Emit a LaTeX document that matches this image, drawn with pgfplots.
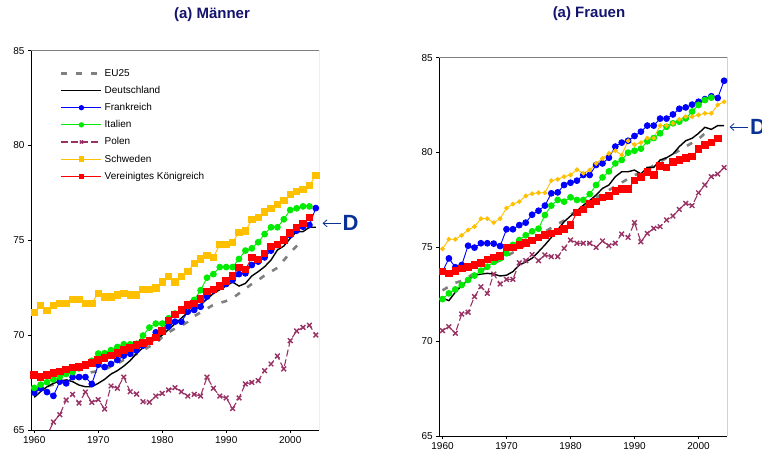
\documentclass[border=0pt]{standalone}
\usepackage{fontspec}
\setmainfont{Liberation Sans}
\usepackage{pgfplots}
\pgfplotsset{compat=1.18}
\usetikzlibrary{arrows.meta}
\definecolor{cEU}{RGB}{128,128,128}
\definecolor{cFR}{RGB}{0,0,255}
\definecolor{cIT}{RGB}{0,235,0}
\definecolor{cPL}{RGB}{153,51,102}
\definecolor{cSE}{RGB}{255,192,0}
\definecolor{cUK}{RGB}{255,0,0}
\definecolor{cTitle}{RGB}{20,20,110}
\definecolor{cD}{RGB}{10,50,150}
\pgfplotsset{
  lebase/.style={
    scale only axis, width=288pt,
    xmin=1959.5, xmax=2004.5, ymin=65, ymax=85,
    xtick={1960,1970,1980,1990,2000}, ytick={65,70,75,80,85},
    axis x line*=bottom, axis y line*=left,
    tick align=outside, major tick length=3pt,
    /pgf/number format/1000 sep={},
    /pgf/number format/assume math mode=true,
    tick label style={font=\fontsize{10}{12}\selectfont},
    axis line style={black, line width=0.9pt},
    tick style={black, line width=0.6pt},
    legend image code/.code={\draw[mark repeat=2,mark phase=2,##1] plot coordinates {(0pt,0pt) (20pt,0pt) (40pt,0pt)};},
  },
  sEU/.style={cEU, line width=2.6pt, dash pattern=on 6pt off 9pt, no markers},
  sDE/.style={black, line width=1.4pt, no markers},
  sFR/.style={cFR, line width=0.9pt, mark=*, mark size=2.9pt, mark options={solid}},
  sIT/.style={cIT, line width=0.9pt, mark=*, mark size=2.9pt, mark options={solid}},
  sPL/.style={cPL, line width=1.1pt, dash pattern=on 7pt off 3pt, mark=x, mark size=3.3pt, mark options={solid, line width=1.4pt}},
  sSE/.style={cSE, line width=0.9pt, mark=square*, mark size=3.2pt, mark options={solid}},
  sSEw/.style={cSE, line width=0.9pt, mark=*, mark size=1.9pt, mark options={solid}},
  sUK/.style={cUK, line width=0.9pt, mark=square*, mark size=3.3pt, mark options={solid}},
}
\begin{document}
\begin{tikzpicture}
\useasboundingbox (0pt,0pt) rectangle (762pt,461pt);
% ---------------- Maenner ----------------
\begin{axis}[lebase, at={(31pt,31pt)}, anchor=south west, height=379.3pt,
  legend style={draw=none, fill=none, at={(0.09,0.962)}, anchor=north west,
    font=\fontsize{10}{12}\selectfont, row sep=4.4pt, legend cell align=left,
    /tikz/every even column/.append style={column sep=2pt}},
  legend image post style={mark size=2.2pt}]
\draw[gray, line width=0.7pt] (rel axis cs:0,1) -- (rel axis cs:1,1) -- (rel axis cs:1,0);
\addplot[sEU] coordinates {(1960,67.0)(1961,67.2)(1962,67.3)(1963,67.4)(1964,67.5)(1965,67.6)(1966,67.7)(1967,67.8)(1968,67.95)(1969,68.05)(1970,68.1)(1971,68.2)(1972,68.35)(1973,68.5)(1974,68.7)(1975,68.85)(1976,69.0)(1977,69.2)(1978,69.4)(1979,69.55)(1980,69.9)(1981,70.15)(1982,70.35)(1983,70.5)(1984,70.7)(1985,71.0)(1986,71.2)(1987,71.4)(1988,71.6)(1989,71.7)(1990,71.8)(1991,71.95)(1992,72.2)(1993,72.45)(1994,72.7)(1995,72.9)(1996,73.15)(1997,73.35)(1998,73.55)(1999,73.95)(2000,74.35)(2001,74.7)(2002,75.05)};
\addlegendentry{EU25}
\addplot[sDE] coordinates {(1960,66.72)(1961,67.02)(1962,67.28)(1963,67.46)(1964,67.58)(1965,67.64)(1966,67.55)(1967,67.37)(1968,67.28)(1969,67.28)(1970,67.46)(1971,67.67)(1972,67.95)(1973,68.13)(1974,68.37)(1975,68.66)(1976,69.04)(1977,69.34)(1978,69.57)(1979,69.8)(1980,70.0)(1981,70.3)(1982,70.6)(1983,70.9)(1984,71.2)(1985,71.4)(1986,71.6)(1987,71.9)(1988,72.2)(1989,72.4)(1990,72.6)(1991,72.8)(1992,72.59)(1993,72.73)(1994,73.12)(1995,73.35)(1996,73.61)(1997,73.96)(1998,74.49)(1999,74.7)(2000,75.1)(2001,75.46)(2002,75.46)(2003,75.69)(2004,75.69)};
\addlegendentry{Deutschland}
\addplot[sFR] coordinates {(1960,66.97)(1961,67.2)(1962,67.0)(1963,66.8)(1964,67.55)(1965,67.46)(1966,67.79)(1967,67.79)(1968,67.79)(1969,67.43)(1970,68.44)(1971,68.32)(1972,68.48)(1973,68.69)(1974,68.92)(1975,69.02)(1976,69.2)(1977,69.45)(1978,69.73)(1979,70.15)(1980,70.27)(1981,70.45)(1982,70.71)(1983,70.71)(1984,71.24)(1985,71.33)(1986,71.5)(1987,72.03)(1988,72.36)(1989,72.56)(1990,72.7)(1991,72.91)(1992,73.22)(1993,73.26)(1994,73.7)(1995,73.88)(1996,74.1)(1997,74.46)(1998,74.75)(1999,74.98)(2000,75.28)(2001,75.51)(2002,75.72)(2003,75.81)(2004,76.7)};
\addlegendentry{Frankreich}
\addplot[sIT] coordinates {(1960,67.22)(1961,67.39)(1962,67.52)(1963,67.66)(1964,67.8)(1965,67.95)(1966,68.06)(1967,68.25)(1968,68.45)(1969,68.65)(1970,69.03)(1971,69.05)(1972,69.21)(1973,69.38)(1974,69.52)(1975,69.52)(1976,69.55)(1977,69.98)(1978,70.4)(1979,70.61)(1980,70.61)(1981,70.89)(1982,71.14)(1983,71.37)(1984,71.53)(1985,71.86)(1986,72.37)(1987,73.03)(1988,73.22)(1989,73.59)(1990,73.59)(1991,73.59)(1992,74.02)(1993,74.46)(1994,74.58)(1995,74.9)(1996,75.33)(1997,75.69)(1998,75.69)(1999,76.11)(2000,76.6)(2001,76.69)(2002,76.79)(2003,76.79)};
\addlegendentry{Italien}
\addplot[sPL] coordinates {(1960,64.95)(1961,64.75)(1962,64.7)(1963,65.42)(1964,65.81)(1965,66.58)(1966,66.88)(1967,66.42)(1968,67.0)(1969,66.46)(1970,66.6)(1971,66.11)(1972,67.32)(1973,67.2)(1974,67.79)(1975,67.02)(1976,66.9)(1977,66.49)(1978,66.46)(1979,66.79)(1980,66.93)(1981,67.11)(1982,67.23)(1983,67.02)(1984,66.79)(1985,66.88)(1986,66.79)(1987,67.79)(1988,67.2)(1989,66.79)(1990,66.69)(1991,66.13)(1992,66.69)(1993,67.43)(1994,67.51)(1995,67.6)(1996,68.13)(1997,68.48)(1998,68.9)(1999,68.22)(2000,69.71)(2001,70.22)(2002,70.41)(2003,70.52)(2004,70.01)};
\addlegendentry{Polen}
\addplot[sSE] coordinates {(1960,71.2)(1961,71.57)(1962,71.31)(1963,71.57)(1964,71.68)(1965,71.68)(1966,71.89)(1967,71.89)(1968,71.68)(1969,71.68)(1970,72.2)(1971,72.01)(1972,72.01)(1973,72.12)(1974,72.2)(1975,72.12)(1976,72.12)(1977,72.42)(1978,72.42)(1979,72.5)(1980,72.8)(1981,73.1)(1982,72.8)(1983,73.1)(1984,73.35)(1985,73.79)(1986,74.02)(1987,74.2)(1988,74.1)(1989,74.79)(1990,74.79)(1991,74.9)(1992,75.42)(1993,75.49)(1994,76.09)(1995,76.2)(1996,76.49)(1997,76.69)(1998,76.9)(1999,77.11)(2000,77.41)(2001,77.58)(2002,77.69)(2003,77.9)(2004,78.41)};
\addlegendentry{Schweden}
\addplot[sUK] coordinates {(1960,67.9)(1961,67.79)(1962,67.9)(1963,68.02)(1964,68.08)(1965,68.2)(1966,68.29)(1967,68.34)(1968,68.44)(1969,68.55)(1970,68.69)(1971,68.8)(1972,68.94)(1973,69.06)(1974,69.22)(1975,69.32)(1976,69.48)(1977,69.59)(1978,69.69)(1979,69.87)(1980,70.22)(1981,70.78)(1982,71.1)(1983,71.33)(1984,71.59)(1985,71.68)(1986,71.91)(1987,72.31)(1988,72.42)(1989,72.59)(1990,72.86)(1991,73.12)(1992,73.58)(1993,73.47)(1994,74.09)(1995,74.0)(1996,74.31)(1997,74.67)(1998,74.79)(1999,75.02)(2000,75.4)(2001,75.67)(2002,75.9)(2003,76.21)};
\addlegendentry{Vereinigtes Königreich}
\end{axis}
% ---------------- Frauen ----------------
\begin{axis}[lebase, at={(439.3pt,25pt)}, anchor=south west, height=378.3pt]
\draw[gray, line width=0.7pt] (rel axis cs:0,1) -- (rel axis cs:1,1) -- (rel axis cs:1,0);
\addplot[sEU] coordinates {(1960,72.7)(1961,72.9)(1962,73.1)(1963,73.2)(1964,73.4)(1965,73.6)(1966,73.75)(1967,73.9)(1968,74.1)(1969,74.3)(1970,74.5)(1971,74.7)(1972,74.9)(1973,75.1)(1974,75.3)(1975,75.5)(1976,75.8)(1977,76.0)(1978,76.2)(1979,76.4)(1980,76.7)(1981,76.9)(1982,77.1)(1983,77.3)(1984,77.6)(1985,77.8)(1986,78.0)(1987,78.2)(1988,78.4)(1989,78.6)(1990,78.8)(1991,78.9)(1992,79.1)(1993,79.3)(1994,79.5)(1995,79.7)(1996,79.9)(1997,80.1)(1998,80.3)(1999,80.5)(2000,80.7)(2001,81.0)(2002,81.2)};
\addplot[sDE] coordinates {(1960,72.28)(1961,72.16)(1962,72.6)(1963,72.95)(1964,73.25)(1965,73.5)(1966,73.56)(1967,73.6)(1968,73.56)(1969,73.46)(1970,73.5)(1971,73.69)(1972,74.04)(1973,74.2)(1974,74.4)(1975,74.74)(1976,75.1)(1977,75.5)(1978,75.9)(1979,76.33)(1980,76.63)(1981,76.9)(1982,77.2)(1983,77.45)(1984,77.74)(1985,78.09)(1986,78.27)(1987,78.71)(1988,78.97)(1989,78.97)(1990,79.06)(1991,78.85)(1992,79.2)(1993,79.2)(1994,79.59)(1995,79.71)(1996,79.91)(1997,80.3)(1998,80.61)(1999,80.74)(2000,81.0)(2001,81.32)(2002,81.21)(2003,81.41)(2004,81.41)};
\addplot[sFR] coordinates {(1960,73.69)(1961,74.39)(1962,73.92)(1963,74.04)(1964,75.06)(1965,74.96)(1966,75.19)(1967,75.19)(1968,75.17)(1969,75.04)(1970,75.93)(1971,75.93)(1972,76.15)(1973,76.28)(1974,76.7)(1975,76.91)(1976,77.18)(1977,77.83)(1978,77.88)(1979,78.27)(1980,78.39)(1981,78.5)(1982,78.8)(1983,78.8)(1984,79.33)(1985,79.41)(1986,79.71)(1987,80.3)(1988,80.51)(1989,80.61)(1990,80.86)(1991,81.09)(1992,81.41)(1993,81.41)(1994,81.78)(1995,81.78)(1996,82.0)(1997,82.3)(1998,82.37)(1999,82.52)(2000,82.67)(2001,82.81)(2002,82.96)(2003,82.87)(2004,83.78)};
\addplot[sIT] coordinates {(1960,72.24)(1961,72.54)(1962,72.75)(1963,72.98)(1964,73.25)(1965,73.48)(1966,73.74)(1967,73.95)(1968,74.2)(1969,74.39)(1970,74.66)(1971,75.1)(1972,75.36)(1973,75.61)(1974,75.82)(1975,75.96)(1976,76.68)(1977,77.18)(1978,77.48)(1979,77.39)(1980,77.62)(1981,77.48)(1982,77.48)(1983,77.79)(1984,78.27)(1985,78.67)(1986,78.99)(1987,79.41)(1988,79.59)(1989,79.98)(1990,80.08)(1991,80.19)(1992,80.58)(1993,80.75)(1994,81.0)(1995,81.35)(1996,81.53)(1997,81.62)(1998,81.79)(1999,82.15)(2000,82.5)(2001,82.76)(2002,82.89)};
\addplot[sPL] coordinates {(1960,70.57)(1961,70.78)(1962,70.43)(1963,71.45)(1964,71.54)(1965,72.37)(1966,72.89)(1967,72.54)(1968,73.56)(1969,73.04)(1970,73.28)(1971,73.28)(1972,74.16)(1973,74.27)(1974,74.59)(1975,74.27)(1976,74.57)(1977,74.48)(1978,74.48)(1979,74.92)(1980,75.36)(1981,75.19)(1982,75.19)(1983,75.19)(1984,74.97)(1985,75.31)(1986,75.06)(1987,75.19)(1988,75.68)(1989,75.5)(1990,76.28)(1991,75.27)(1992,75.71)(1993,75.98)(1994,76.07)(1995,76.42)(1996,76.63)(1997,76.98)(1998,77.3)(1999,77.18)(2000,77.86)(2001,78.27)(2002,78.71)(2003,78.85)(2004,79.19)};
\addplot[sSEw] coordinates {(1960,74.89)(1961,75.4)(1962,75.4)(1963,75.61)(1964,75.89)(1965,76.07)(1966,76.49)(1967,76.49)(1968,76.28)(1969,76.49)(1970,77.05)(1971,77.26)(1972,77.39)(1973,77.69)(1974,77.81)(1975,77.86)(1976,77.86)(1977,78.5)(1978,78.57)(1979,78.71)(1980,78.8)(1981,79.08)(1982,78.89)(1983,79.06)(1984,79.41)(1985,79.68)(1986,79.94)(1987,80.08)(1988,79.85)(1989,80.61)(1990,80.4)(1991,80.51)(1992,80.75)(1993,80.75)(1994,81.41)(1995,81.41)(1996,81.53)(1997,81.74)(1998,81.88)(1999,81.88)(2000,81.97)(2001,82.06)(2002,82.06)(2003,82.5)(2004,82.67)};
\addplot[sUK] coordinates {(1960,73.69)(1961,73.6)(1962,73.72)(1963,73.85)(1964,73.95)(1965,74.04)(1966,74.16)(1967,74.34)(1968,74.45)(1969,74.53)(1970,74.96)(1971,74.96)(1972,75.1)(1973,75.22)(1974,75.33)(1975,75.5)(1976,75.63)(1977,75.71)(1978,75.82)(1979,75.96)(1980,76.15)(1981,76.82)(1982,76.98)(1983,77.26)(1984,77.39)(1985,77.62)(1986,77.7)(1987,77.97)(1988,78.06)(1989,78.06)(1990,78.5)(1991,78.71)(1992,78.96)(1993,78.81)(1994,79.29)(1995,79.19)(1996,79.48)(1997,79.59)(1998,79.71)(1999,79.77)(2000,80.17)(2001,80.38)(2002,80.51)(2003,80.74)};
\end{axis}
% titles and annotations
\node[font=\fontsize{15}{17}\selectfont\bfseries, text=cTitle] at (212pt,446pt) {(a) Männer};
\node[font=\fontsize{15}{17}\selectfont\bfseries, text=cTitle] at (589pt,447pt) {(a) Frauen};
\draw[cD, line width=0.8pt, -{Straight Barb[length=4pt,width=7pt]}] (341pt,237.7pt) -- (322.5pt,237.7pt);
\node[font=\fontsize{22}{24}\selectfont\bfseries, text=cD, anchor=west, inner sep=0pt] at (342.5pt,237.7pt) {D};
\draw[cD, line width=0.8pt, -{Straight Barb[length=4pt,width=7pt]}] (748pt,334pt) -- (729.5pt,334pt);
\node[font=\fontsize{22}{24}\selectfont\bfseries, text=cD, anchor=west, inner sep=0pt] at (750pt,334pt) {D};
\end{tikzpicture}
\end{document}
